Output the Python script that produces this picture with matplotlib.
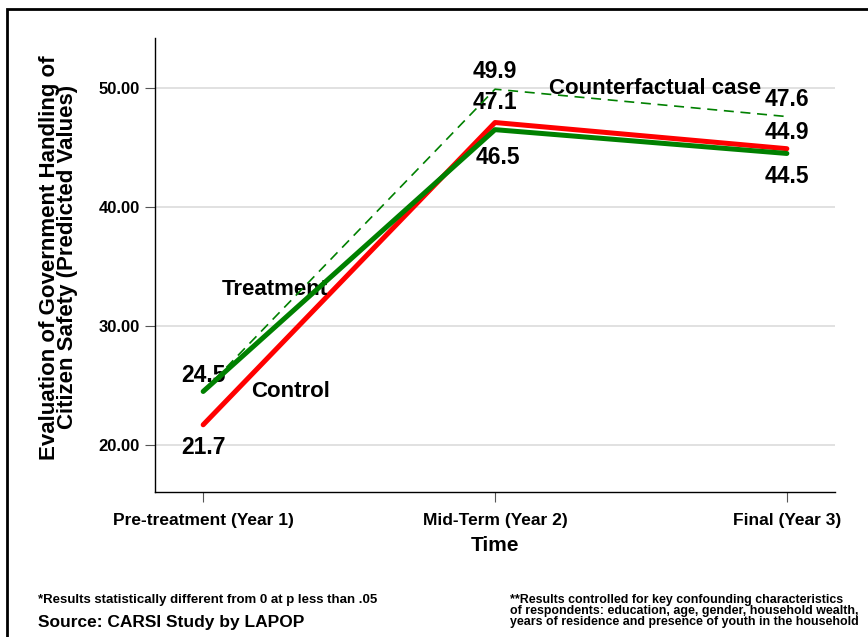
import numpy as np
import matplotlib.pyplot as plt
from matplotlib.patches import Rectangle

# values
periods = ['Pre-treatment (Year 1)', 'Mid-Term (Year 2)', 'Final (Year 3)']
control = [21.7, 47.1, 44.9]
treatment = [24.5, 46.5, 44.5]
counterfactual = [24.5, 49.9, 47.6]
yticks = [20, 30, 40, 50]

plt.rcParams['font.family'] = ['Liberation Sans', 'DejaVu Sans']

fig = plt.figure(figsize=(8.68, 6.37), dpi=100)
ax = fig.add_axes([0.1786, 0.2276, 0.962 - 0.1786, 0.9403 - 0.2276])

x = np.arange(len(periods))
ax.plot(x, control, color='#ff0000', lw=3.6, solid_capstyle='round', zorder=3)
ax.plot(x, treatment, color='#008000', lw=3.6, solid_capstyle='round', zorder=4)
ax.plot(x, counterfactual, color='#008000', lw=1.2, dashes=(6, 4), zorder=5)

ax.set_xlim(-0.165, 2.165)
ax.set_ylim(16.05, 54.2)
ax.set_yticks(yticks)
ax.set_yticklabels([f'{v:.2f}' for v in yticks], fontsize=12, fontweight='bold')
ax.set_xticks(x)
ax.set_xticklabels(periods, fontsize=12.5, fontweight='bold')
ax.tick_params(axis='both', direction='out', length=7, width=0.8, color='#555555')
ax.tick_params(axis='x', pad=8)
ax.tick_params(axis='y', pad=4)
ax.grid(axis='y', color='#dcdcdc', lw=1.2)
ax.set_axisbelow(True)
for s in ['top', 'right']:
    ax.spines[s].set_visible(False)
for s in ['left', 'bottom']:
    ax.spines[s].set_linewidth(1.0)

ax.set_xlabel('Time', fontsize=15, fontweight='bold', labelpad=6)
ax.set_ylabel('Evaluation of Government Handling of\nCitizen Safety (Predicted Values)',
              fontsize=16, fontweight='bold', linespacing=0.8, labelpad=14)
ax.yaxis.set_label_coords(-0.1135, 0.517)

# value labels
lab = dict(fontsize=16.5, fontweight='bold', ha='center', va='center')
ax.text(x[0], control[0] - 1.95, f'{control[0]}', **lab)
ax.text(x[0], treatment[0] + 1.3, f'{treatment[0]}', **lab)
ax.text(x[1], counterfactual[1] + 1.45, f'{counterfactual[1]}', **lab)
ax.text(x[1], control[1] + 1.65, f'{control[1]}', **lab)
ax.text(x[1] + 0.01, treatment[1] - 2.3, f'{treatment[1]}', **lab)
ax.text(x[2], counterfactual[2] + 1.4, f'{counterfactual[2]}', **lab)
ax.text(x[2], control[2] + 1.4, f'{control[2]}', **lab)
ax.text(x[2], treatment[2] - 1.9, f'{treatment[2]}', **lab)

ax.text(0.247, 33.1, 'Treatment', fontsize=16, fontweight='bold', ha='center', va='center')
ax.text(0.298, 24.5, 'Control', fontsize=16, fontweight='bold', ha='center', va='center')
ax.text(1.55, 50.0, 'Counterfactual case', fontsize=16, fontweight='bold', ha='center', va='center')

# footnotes
fig.text(38 / 868, 1 - 600 / 637, '*Results statistically different from 0 at p less than .05',
         fontsize=9.5, fontweight='bold', va='center')
fig.text(38 / 868, 1 - 622 / 637, 'Source: CARSI Study by LAPOP',
         fontsize=12.5, fontweight='bold', va='center')
fig.text(510 / 868, 1 - 594 / 637,
         '**Results controlled for key confounding characteristics\n'
         'of respondents: education, age, gender, household wealth,\n'
         'years of residence and presence of youth in the household',
         fontsize=8.9, fontweight='bold', va='top', linespacing=0.88)

# outer frame
fig.patches.append(Rectangle((7 / 868, -0.1), 1.2, 1.1 - 9 / 637, transform=fig.transFigure,
                             fill=False, edgecolor='black', lw=2, clip_on=False))

fig.savefig('out.png', dpi=100)
